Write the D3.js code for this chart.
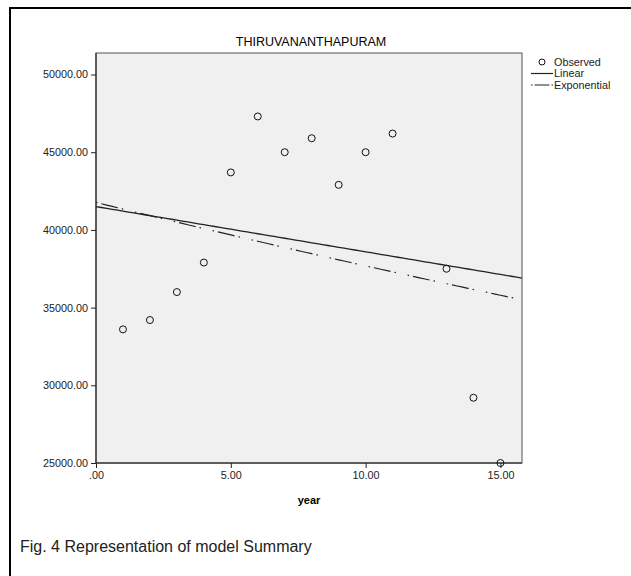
<!DOCTYPE html>
<html>
<head>
<meta charset="utf-8">
<script src="https://cdn.jsdelivr.net/npm/d3@7"></script>
<style>
  body { margin: 0; background: #fff; }
  svg { font-family: "Liberation Sans", Arial, sans-serif; display: block; }
</style>
</head>
<body>
<div id="chart"></div>
<script>
(function(){
  var width = 631,
      height = 576;

  var years = [1, 2, 3, 4, 5, 6, 7, 8, 9, 10, 11, 13, 14, 15];
  var observed = [33600, 34200, 36000, 37900, 43700, 47300, 45000, 45900, 42900, 45000, 46200, 37500, 29200, 25000];

  // fitted curves: linear b0 + b1*x, exponential b0*exp(b1*x)
  var linearFit = [41500, -291];
  var expFit = [41770, -0.01029];

  var xTicks = [0, 5, 10, 15];
  var yTicks = [25000, 30000, 35000, 40000, 45000, 50000];
  var legendItems = ['Observed', 'Linear', 'Exponential'];

  var plot = {left: 96, top: 53, right: 522, bottom: 463};

  var svg = d3.select('#chart')
    .append('svg')
    .attr('width', width)
    .attr('height', height)

  // outer frame
  svg.append('rect')
    .attr('x', 10).attr('y', 8)
    .attr('width', 700).attr('height', 700)
    .attr('fill', 'none')
    .attr('stroke', '#000')
    .attr('stroke-width', 2)

  var xMax = 15.8
  var x = d3.scaleLinear().domain([0, xMax]).range([plot.left, plot.right])
  var y = d3.scaleLinear().domain([25000, 51385]).range([plot.bottom, plot.top])

  svg.append('rect')
    .attr('x', plot.left).attr('y', plot.top)
    .attr('width', plot.right - plot.left)
    .attr('height', plot.bottom - plot.top)
    .attr('fill', '#f0f0f0')
    .attr('stroke', '#555')
    .attr('stroke-width', 1)

  svg.append('text')
    .attr('x', 311).attr('y', 46)
    .attr('text-anchor', 'middle')
    .attr('font-size', 12.5)
    .attr('fill', '#000')
    .text('THIRUVANANTHAPURAM')

  var yAxis = svg.append('g')
    .attr('transform', `translate(${plot.left},0)`)
    .call(d3.axisLeft(y).tickValues(yTicks).tickSize(5).tickFormat(d3.format('.2f')))
  var xAxis = svg.append('g')
    .attr('transform', `translate(0,${plot.bottom})`)
    .call(d3.axisBottom(x).tickValues(xTicks).tickSize(5).tickFormat(function(d){
      return d === 0 ? '.00' : d3.format('.2f')(d)
    }))

  ;[xAxis, yAxis].forEach(function(g){
    g.select('.domain').attr('stroke', '#444').attr('stroke-width', 1.5)
    g.selectAll('.tick line').attr('stroke', '#222')
    g.selectAll('.tick text')
      .attr('font-family', '"Liberation Sans", Arial, sans-serif')
      .attr('font-size', 10.8)
      .attr('fill', '#222')
  })
  xAxis.select('.domain').attr('d', `M${plot.left},0H${plot.right}`)
  yAxis.select('.domain').attr('d', `M0,${plot.bottom}V${plot.top}`)
  xAxis.selectAll('.tick text').attr('dy', '0.7em')

  svg.append('text')
    .attr('x', 309).attr('y', 504)
    .attr('text-anchor', 'middle')
    .attr('font-size', 11)
    .attr('font-weight', 'bold')
    .text('year')

  // fit lines
  var xs = d3.range(0, 80).map(function(i){ return i * 0.2 }).concat([xMax])
  var line = d3.line().x(function(d){ return x(d[0]) }).y(function(d){ return y(d[1]) })

  svg.append('path')
    .datum(xs.map(function(v){ return [v, expFit[0] * Math.exp(expFit[1] * v)] }))
    .attr('d', line)
    .attr('fill', 'none')
    .attr('stroke', '#222')
    .attr('stroke-width', 1.2)
    .attr('stroke-dasharray', '1.5,4,17,4,1.5,12')

  svg.append('path')
    .datum(xs.map(function(v){ return [v, linearFit[0] + linearFit[1] * v] }))
    .attr('d', line)
    .attr('fill', 'none')
    .attr('stroke', '#222')
    .attr('stroke-width', 1.3)

  svg.selectAll('.pt')
    .data(years)
    .enter().append('circle')
    .attr('class', 'pt')
    .attr('cx', function(d){ return x(d) })
    .attr('cy', function(d, i){ return y(observed[i]) })
    .attr('r', 3.5)
    .attr('fill', 'none')
    .attr('stroke', '#111')
    .attr('stroke-width', 1)

  // legend
  var legend = svg.append('g').attr('transform', 'translate(531,62)')
  legendItems.forEach(function(name, i){
    var gy = i * 11.5
    if (i === 0) {
      legend.append('circle').attr('cx', 11).attr('cy', gy).attr('r', 3)
        .attr('fill', 'none').attr('stroke', '#111')
    } else {
      legend.append('line').attr('x1', 0).attr('x2', 22).attr('y1', gy).attr('y2', gy)
        .attr('stroke', '#222').attr('stroke-width', 1.2)
        .attr('stroke-dasharray', i === 2 ? '1.5,2,15,2' : null)
    }
    legend.append('text').attr('x', 23).attr('y', gy + 3.8)
      .attr('font-size', 10.8).attr('fill', '#222')
      .text(name)
  })

  svg.append('text')
    .attr('x', 20).attr('y', 552)
    .attr('font-size', 16)
    .attr('fill', '#222')
    .text('Fig. 4 Representation of model Summary')
})()
</script>
</body>
</html>
